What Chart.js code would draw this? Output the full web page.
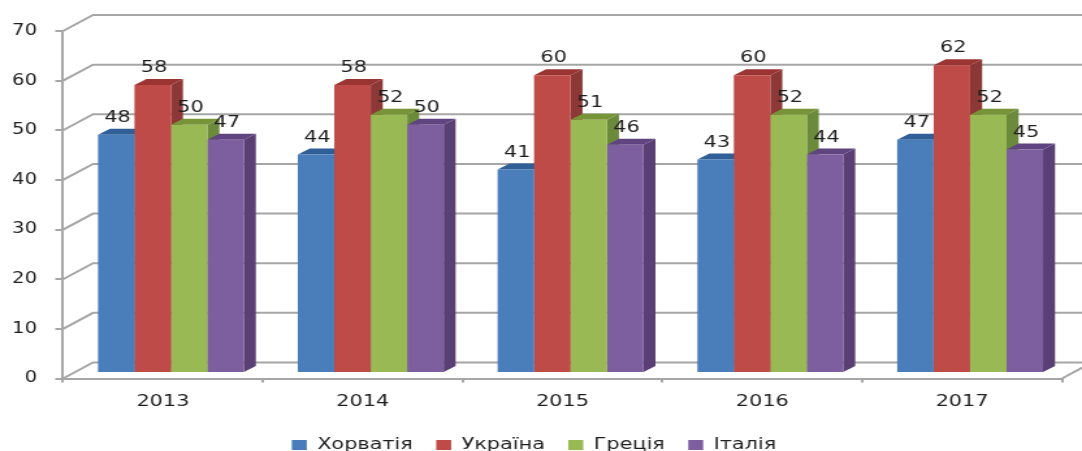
<!DOCTYPE html>
<html>
<head>
<meta charset="utf-8">
<script src="https://cdn.jsdelivr.net/npm/chart.js@4"></script>
<style>
html, body { margin: 0; padding: 0; background: #fff; overflow: hidden; }
/* the source picture is stretched sideways and soft, so the canvas is too */
canvas { display: block; width: 1082px !important; height: 451px !important; filter: blur(0.4px); }
</style>
</head>
<body>
<canvas id="chart" width="832" height="451"></canvas>
<script>
const categories = ['2013', '2014', '2015', '2016', '2017'];
const seriesNames = ['Хорватія', 'Україна', 'Греція', 'Італія'];
const croatia = [48, 44, 41, 43, 47];
const ukraine = [58, 58, 60, 60, 62];
const greece = [50, 52, 51, 52, 52];
const italy = [47, 50, 46, 44, 45];
const frontColors = ['#4a7ebb', '#be4b48', '#98b954', '#7d5fa0'];
const topColors = ['#2f5f96', '#9a3533', '#779438', '#5f4480'];
const sideColors = ['#35608f', '#8c3836', '#6c8a3c', '#5a3f75'];

const stretch = 1.3;
const axisColor = '#a6a6a6';
const textColor = '#1f1f1f';
const fontFamily = '"DejaVu Sans"';
const wallX = 30 / stretch, wallY = 16;
const shiftX = 8 / stretch, shiftY = -5.5;
const depthX = 12 / stretch, depthY = 6;
const padLeft = 6 / stretch;

// back wall, grid lines and the floor edge
const wallPlugin = {
    id: 'wall',
    beforeDatasetsDraw(chart) {
        const ctx = chart.ctx;
        const y = chart.scales.y;
        const area = chart.chartArea;
        ctx.save();
        ctx.strokeStyle = axisColor;
        ctx.lineWidth = 2;
        y.ticks.forEach(t => {
            const py = y.getPixelForValue(t.value);
            ctx.beginPath();
            ctx.moveTo(area.left, py);
            ctx.lineTo(area.left + wallX, py - wallY);
            ctx.lineTo(chart.width, py - wallY);
            ctx.stroke();
        });
        ctx.beginPath();
        ctx.moveTo(area.right, area.bottom);
        ctx.lineTo(area.right + wallX, area.bottom - wallY);
        ctx.stroke();
        ctx.restore();

        // bar sides and tops go under all the fronts
        ctx.save();
        ctx.translate(shiftX, shiftY);
        chart.data.datasets.forEach((ds, i) => {
            chart.getDatasetMeta(i).data.forEach(bar => {
                const left = bar.x - bar.width / 2;
                const right = bar.x + bar.width / 2;
                ctx.fillStyle = sideColors[i];
                ctx.beginPath();
                ctx.moveTo(right, bar.y);
                ctx.lineTo(right + depthX, bar.y - depthY);
                ctx.lineTo(right + depthX, bar.base - depthY);
                ctx.lineTo(right, bar.base);
                ctx.closePath();
                ctx.fill();
                ctx.fillStyle = topColors[i];
                ctx.beginPath();
                ctx.moveTo(left, bar.y);
                ctx.lineTo(left + depthX, bar.y - depthY);
                ctx.lineTo(right + depthX, bar.y - depthY);
                ctx.lineTo(right, bar.y);
                ctx.closePath();
                ctx.fill();
            });
        });
        ctx.restore();

        ctx.save();
        ctx.translate(shiftX, shiftY);
    },
    afterDatasetsDraw(chart) {
        const ctx = chart.ctx;
        ctx.restore();

        // value labels
        ctx.save();
        ctx.translate(shiftX, shiftY);
        ctx.fillStyle = textColor;
        ctx.font = '16px ' + fontFamily;
        ctx.textAlign = 'center';
        ctx.textBaseline = 'middle';
        chart.data.datasets.forEach((ds, i) => {
            chart.getDatasetMeta(i).data.forEach((bar, j) => {
                ctx.fillText(ds.data[j], bar.x + 1, bar.y - 17);
            });
        });
        ctx.restore();
    }
};

new Chart(document.getElementById('chart').getContext('2d'), {
    type: 'bar',
    data: {
        labels: categories,
        datasets: [croatia, ukraine, greece, italy].map((values, i) => ({
            label: seriesNames[i],
            data: values,
            backgroundColor: frontColors[i],
            borderWidth: 0,
            categoryPercentage: 0.73,
            barPercentage: 1
        }))
    },
    options: {
        responsive: false,
        animation: false,
        devicePixelRatio: 1,
        layout: {
            padding: { top: 31, right: 20 / stretch, bottom: -12, left: padLeft }
        },
        scales: {
            x: {
                afterFit(scale) { scale.height = 40.5; },
                grid: {
                    drawOnChartArea: false,
                    color: axisColor,
                    lineWidth: 2,
                    tickLength: 4
                },
                border: { color: axisColor, width: 2 },
                ticks: {
                    color: textColor,
                    padding: 10,
                    maxRotation: 0,
                    font: { family: fontFamily, size: 16 }
                }
            },
            y: {
                min: 0,
                max: 70,
                afterFit(scale) { scale.width = 63 / stretch - padLeft; },
                grid: {
                    drawOnChartArea: false,
                    color: axisColor,
                    lineWidth: 2,
                    tickLength: 6
                },
                border: { color: axisColor, width: 2 },
                ticks: {
                    stepSize: 10,
                    color: textColor,
                    padding: 14,
                    font: { family: fontFamily, size: 15 }
                }
            }
        },
        plugins: {
            title: { display: false },
            tooltip: { enabled: false },
            legend: {
                position: 'bottom',
                labels: {
                    color: textColor,
                    boxWidth: 11.5,
                    boxHeight: 10,
                    padding: 18,
                    font: { family: fontFamily, size: 16 }
                }
            }
        }
    },
    plugins: [wallPlugin]
});
</script>
</body>
</html>
